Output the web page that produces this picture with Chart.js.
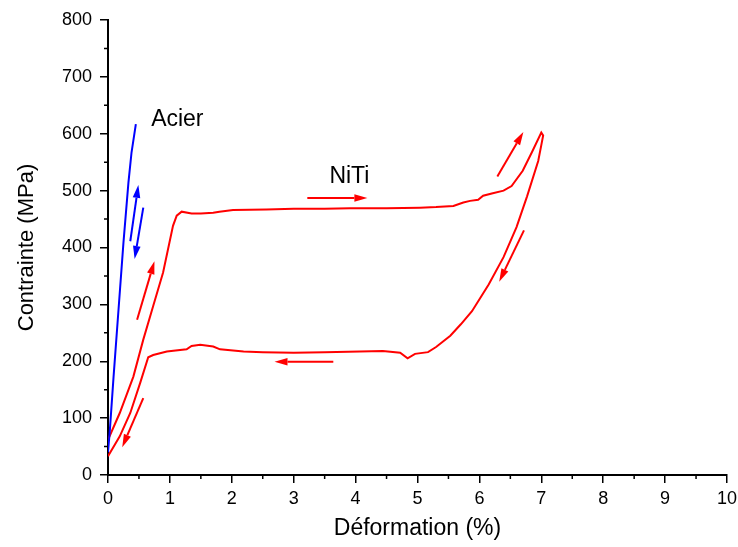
<!DOCTYPE html>
<html>
<head>
<meta charset="utf-8">
<script src="https://cdn.jsdelivr.net/npm/chart.js@4"></script>
<style>
  html, body { margin: 0; padding: 0; background: #fff; }
</style>
</head>
<body>
<canvas id="myChart" width="738" height="547"></canvas>
<script>
// Acier (steel) curve
const acierX = [0, 0.03, 0.09, 0.17, 0.25, 0.33, 0.38, 0.45];
const acierY = [40, 79, 173, 291, 409, 514, 567, 617];

// NiTi loop: loading then unloading, in drawing order
const nitiX = [0, 0.19, 0.41, 0.57, 0.73, 0.89, 1.05, 1.11, 1.19, 1.35, 1.5, 1.7, 1.8, 2.02, 2.56, 3.0, 3.5, 3.91, 4.5, 5.04, 5.3, 5.58, 5.74, 5.85, 5.98, 6.06, 6.2, 6.39, 6.52, 6.7, 6.85, 7.0,
  7.03, 7.0, 6.95, 6.77, 6.6, 6.39, 6.15, 5.88, 5.7, 5.53, 5.3, 5.17, 4.96, 4.84, 4.72, 4.44, 4.07, 3.5, 3.0, 2.5, 2.19, 1.81, 1.7, 1.49, 1.35, 1.27, 0.95, 0.73, 0.65, 0.52, 0.36, 0.19, 0];
const nitiY = [62, 109, 173, 238, 297, 356, 438, 456, 463, 460, 460, 461, 463, 466, 467, 468, 468, 469, 469, 470, 471, 473, 479, 482, 484, 491, 495, 500, 508, 535, 568, 602,
  597, 580, 552, 490, 436, 383, 335, 288, 265, 245, 225, 216, 213, 205, 215, 218, 217, 216, 215, 216, 217, 221, 226, 229, 227, 221, 217, 211, 207, 162, 109, 68, 33];

// arrows (tail -> head) and which curve they belong to
const arrowTailX = [0.36, 0.57, 0.47, 0.57, 3.22, 3.64, 6.29, 6.72];
const arrowTailY = [411, 470, 273, 135, 487, 199, 525, 430];
const arrowHeadX = [0.49, 0.43, 0.75, 0.23, 4.19, 2.69, 6.71, 6.32];
const arrowHeadY = [510, 380, 376, 49, 487, 199, 603, 340];
const arrowSeries = ["Acier", "Acier", "NiTi", "NiTi", "NiTi", "NiTi", "NiTi", "NiTi"];

// text labels
const labelText = ["Acier", "NiTi"];
const labelX = [1.12, 3.9];
const labelY = [625, 524];

const xTicks = [0, 1, 2, 3, 4, 5, 6, 7, 8, 9, 10];
const yTicks = [0, 100, 200, 300, 400, 500, 600, 700, 800];
const xMinor = [0.5, 1.5, 2.5, 3.5, 4.5, 5.5, 6.5, 7.5, 8.5, 9.5];
const yMinor = [50, 150, 250, 350, 450, 550, 650, 750];

const colors = { Acier: "#0000ff", NiTi: "#ff0000" };
const fontFamily = "'Liberation Sans', Arial, sans-serif";

const zip = (xs, ys) => xs.map((x, i) => ({ x: x, y: ys[i] }));

const annotations = {
  id: "annotations",
  afterDatasetsDraw(chart) {
    const { ctx, scales: { x, y } } = chart;
    ctx.save();
    arrowTailX.forEach((tx, i) => {
      const x0 = x.getPixelForValue(tx);
      const y0 = y.getPixelForValue(arrowTailY[i]);
      const x1 = x.getPixelForValue(arrowHeadX[i]);
      const y1 = y.getPixelForValue(arrowHeadY[i]);
      const a = Math.atan2(y1 - y0, x1 - x0);
      const len = 13, half = 3.8;
      const c = Math.cos(a), s = Math.sin(a);
      ctx.strokeStyle = colors[arrowSeries[i]];
      ctx.fillStyle = colors[arrowSeries[i]];
      ctx.lineWidth = 2;
      ctx.beginPath();
      ctx.moveTo(x0, y0);
      ctx.lineTo(x1 - len * c, y1 - len * s);
      ctx.stroke();
      ctx.beginPath();
      ctx.moveTo(x1, y1);
      ctx.lineTo(x1 - len * c + half * s, y1 - len * s - half * c);
      ctx.lineTo(x1 - len * c - half * s, y1 - len * s + half * c);
      ctx.closePath();
      ctx.fill();
    });
    ctx.fillStyle = "#000";
    ctx.font = "23px " + fontFamily;
    ctx.textAlign = "center";
    ctx.textBaseline = "middle";
    labelText.forEach((t, i) => {
      ctx.fillText(t, x.getPixelForValue(labelX[i]), y.getPixelForValue(labelY[i]));
    });
    ctx.restore();
  },
  afterDraw(chart) {
    const { ctx, scales: { x, y } } = chart;
    ctx.save();
    ctx.strokeStyle = "#000";
    ctx.lineWidth = 1.5;
    ctx.beginPath();
    xMinor.forEach((v) => {
      const px = x.getPixelForValue(v);
      ctx.moveTo(px, x.top);
      ctx.lineTo(px, x.top + 4);
    });
    yMinor.forEach((v) => {
      const py = y.getPixelForValue(v);
      ctx.moveTo(y.right, py);
      ctx.lineTo(y.right - 4, py);
    });
    ctx.stroke();
    ctx.restore();
  },
};

const ctx = document.getElementById("myChart");

new Chart(ctx, {
  type: "scatter",
  data: {
    datasets: [
      {
        label: "Acier",
        data: zip(acierX, acierY),
        showLine: true,
        borderColor: colors.Acier,
        borderWidth: 2,
        pointRadius: 0,
      },
      {
        label: "NiTi",
        data: zip(nitiX, nitiY),
        showLine: true,
        borderColor: colors.NiTi,
        borderWidth: 2,
        pointRadius: 0,
      },
    ],
  },
  options: {
    responsive: false,
    animation: false,
    layout: { padding: { top: 20, right: 0, left: 0, bottom: 0 } },
    plugins: {
      legend: { display: false },
      tooltip: { enabled: false },
    },
    scales: {
      x: {
        type: "linear",
        min: 0,
        max: 10,
        afterBuildTicks: (scale) => { scale.ticks = xTicks.map((v) => ({ value: v })); },
        afterFit: (scale) => {
          scale.height = 72;
          scale.paddingLeft = 0;
          scale.paddingRight = 11;
        },
        border: { display: true, color: "#000", width: 2 },
        grid: { drawOnChartArea: false, drawTicks: true, tickLength: 8, color: "#000", lineWidth: 1.5 },
        ticks: { color: "#000", padding: 5, font: { family: fontFamily, size: 18 } },
        title: {
          display: true,
          text: "Déformation (%)",
          color: "#000",
          padding: { top: 0, bottom: 5 },
          font: { family: fontFamily, size: 23 },
        },
      },
      y: {
        type: "linear",
        min: 0,
        max: 800,
        afterBuildTicks: (scale) => { scale.ticks = yTicks.map((v) => ({ value: v })); },
        afterFit: (scale) => { scale.width = 108; },
        border: { display: true, color: "#000", width: 2 },
        grid: { drawOnChartArea: false, drawTicks: true, tickLength: 8, color: "#000", lineWidth: 1.5 },
        ticks: { color: "#000", padding: 8, font: { family: fontFamily, size: 18 } },
        title: {
          display: true,
          text: "Contrainte (MPa)",
          color: "#000",
          padding: { top: 14, bottom: 0 },
          font: { family: fontFamily, size: 22 },
        },
      },
    },
  },
  plugins: [annotations],
});
</script>
</body>
</html>
